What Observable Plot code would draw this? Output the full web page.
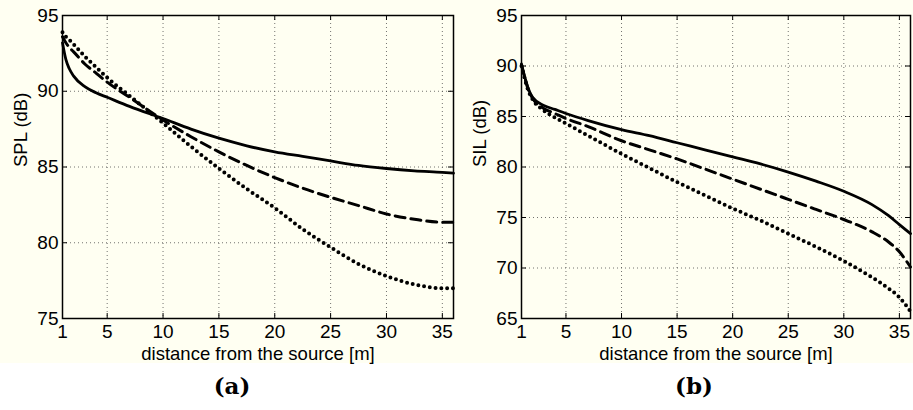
<!DOCTYPE html>
<html>
<head>
<meta charset="utf-8">
<script src="https://cdn.jsdelivr.net/npm/d3@7"></script>
<script src="https://cdn.jsdelivr.net/npm/@observablehq/plot@0.6"></script>
<style>
  html, body { margin: 0; padding: 0; background: #ffffff; }
  #wrap { position: relative; width: 913px; height: 410px; }
  #panels { position: absolute; left: 0; top: 0; width: 913px; height: 363px; background: #fffff2; display: flex; }
  .cap { position: absolute; top: 372px; font-family: "DejaVu Serif", serif; font-weight: bold; font-size: 23px; transform: translateX(-50%); }
</style>
</head>
<body>
<div id="wrap">
  <div id="panels"></div>
  <div class="cap" id="capA" style="left:232px">(a)</div>
  <div class="cap" id="capB" style="left:694px">(b)</div>
</div>
<script>
// distances (m)
const distA = [1, 1.3, 1.6, 2, 3, 4, 5, 7, 10, 12.5, 15, 17.5, 20, 22.5, 25, 27.5, 30, 32.5, 35, 36];
// panel (a) SPL (dB)
const splSolid  = [93.2, 92.1, 91.5, 91.0, 90.3, 89.9, 89.6, 89.0, 88.2, 87.5, 86.9, 86.4, 86.0, 85.7, 85.4, 85.1, 84.9, 84.75, 84.65, 84.6];
const splDashed = [93.6, 93.2, 92.9, 92.6, 91.8, 91.2, 90.6, 89.6, 88.1, 87.0, 86.0, 85.1, 84.3, 83.6, 83.0, 82.45, 81.9, 81.55, 81.35, 81.35];
const splDotted = [93.9, 93.6, 93.4, 93.1, 92.3, 91.6, 90.9, 89.7, 87.9, 86.35, 84.9, 83.55, 82.3, 80.9, 79.7, 78.6, 77.8, 77.25, 77.0, 77.0];

const distB = [1, 1.3, 1.6, 2, 3, 4, 5, 7, 10, 12.5, 15, 17.5, 20, 22.5, 25, 27.5, 30, 32.5, 34, 35, 36];
// panel (b) SIL (dB)
const silSolid  = [90.2, 88.9, 87.8, 86.9, 86.1, 85.7, 85.3, 84.6, 83.7, 83.1, 82.4, 81.7, 81.0, 80.3, 79.5, 78.6, 77.6, 76.3, 75.2, 74.3, 73.4];
const silDashed = [90.1, 88.8, 87.7, 86.8, 85.8, 85.3, 84.8, 84.0, 82.6, 81.7, 80.8, 79.8, 78.8, 77.8, 76.8, 75.8, 74.8, 73.6, 72.6, 71.6, 70.1];
const silDotted = [90.0, 88.7, 87.6, 86.7, 85.6, 84.9, 84.3, 83.1, 81.3, 79.9, 78.5, 77.2, 75.9, 74.7, 73.4, 72.1, 70.7, 69.1, 68.0, 67.1, 65.7];

const xTicks = [1, 5, 10, 15, 20, 25, 30, 35];
const yTicksA = [75, 80, 85, 90, 95];
const yTicksB = [65, 70, 75, 80, 85, 90, 95];
const xLabel = "distance from the source [m]";
const yLabelA = "SPL (dB)";
const yLabelB = "SIL (dB)";

function rows(xs, ys) { return xs.map((x, i) => ({x, y: ys[i]})); }

function panel({width, marginLeft, yDomain, yTicks, yLabel, solid, dashed, dotted, xs}) {
  const H = 363, mt = 15, mb = 45, mr = 3;
  const fw = width - marginLeft - mr, fh = H - mt - mb;
  const innerX = xTicks.filter(t => t > 1 && t < 36);
  const innerY = yTicks.filter(t => t > yDomain[0] && t < yDomain[1]);
  const gridStyle = {stroke: "#444", strokeOpacity: 0.75, strokeDasharray: "1,3", strokeWidth: 1};
  return Plot.plot({
    width, height: H, marginLeft, marginRight: mr, marginTop: mt, marginBottom: mb,
    style: {background: "transparent", fontFamily: "'Liberation Sans', Arial, sans-serif", fontSize: "18px", color: "black", overflow: "visible"},
    x: {domain: [1, 36]},
    y: {domain: yDomain},
    marks: [
      Plot.gridX(innerX, gridStyle),
      Plot.gridY(innerY, gridStyle),
      Plot.tickX(innerX, {x: d => d, stroke: "black", strokeWidth: 1, insetTop: fh - 5}),
      Plot.tickX(innerX, {x: d => d, stroke: "black", strokeWidth: 1, insetBottom: fh - 5}),
      Plot.tickY(innerY, {y: d => d, stroke: "black", strokeWidth: 1, insetRight: fw - 5}),
      Plot.tickY(innerY, {y: d => d, stroke: "black", strokeWidth: 1, insetLeft: fw - 5}),
      Plot.axisX(xTicks, {tickSize: 0, tickPadding: 6, label: null, fill: "black", fontSize: 19}),
      Plot.axisY(yTicks, {tickSize: 0, tickPadding: 4, label: null, fill: "black", fontSize: 19}),
      Plot.text([xLabel], {text: d => d, frameAnchor: "bottom", dy: 41, fontSize: 18.5, fill: "black"}),
      Plot.text([yLabel], {text: d => d, frameAnchor: "left", rotate: -90, dx: -41, fontSize: 18.5, fill: "black"}),
      Plot.line(rows(xs, dotted), {x: "x", y: "y", curve: "monotone-x", stroke: "black", strokeWidth: 4, strokeDasharray: "0,5.8", strokeLinecap: "round"}),
      Plot.line(rows(xs, dashed), {x: "x", y: "y", curve: "monotone-x", stroke: "black", strokeWidth: 3, strokeDasharray: "10,6"}),
      Plot.line(rows(xs, solid), {x: "x", y: "y", curve: "monotone-x", stroke: "black", strokeWidth: 2.8}),
      Plot.frame({stroke: "black", strokeWidth: 1.5})
    ]
  });
}

const host = document.getElementById("panels");
host.appendChild(panel({width: 456, marginLeft: 62, yDomain: [75, 95], yTicks: yTicksA, yLabel: yLabelA,
  solid: splSolid, dashed: splDashed, dotted: splDotted, xs: distA}));
host.appendChild(panel({width: 457, marginLeft: 65, yDomain: [65, 95], yTicks: yTicksB, yLabel: yLabelB,
  solid: silSolid, dashed: silDashed, dotted: silDotted, xs: distB}));
</script>
</body>
</html>
